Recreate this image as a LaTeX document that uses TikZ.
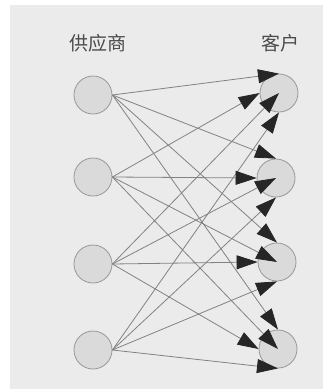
\documentclass[tikz,border=0pt]{standalone}
\usepackage{fontspec}
\newfontfamily\cjk{Noto Sans CJK SC}
\usetikzlibrary{arrows.meta}
\definecolor{bg}{HTML}{EBEBEB}
\definecolor{cfill}{HTML}{DADADA}
\definecolor{cline}{HTML}{989898}
\definecolor{aline}{HTML}{828282}
\definecolor{txt}{HTML}{4A4A4A}
\begin{document}
\begin{tikzpicture}[x=1pt,y=-1pt,
  party/.style={circle,draw=cline,fill=cfill,line width=0.8pt,minimum size=38pt,inner sep=0pt},
  flow/.style={draw=aline,line width=0.8pt,-{Triangle[length=21pt,width=14pt,fill=black!85,color=black!85]}},
  head/.style={font=\cjk\fontsize{19}{19}\selectfont,text=txt}]
\useasboundingbox (0,0) rectangle (323,389);
\fill[white] (0,0) rectangle (323,389);
\fill[bg] (10,5) rectangle (323,389);
\node[head] (ts) at (98,43) {供应商};
\node[head] (tc) at (280,43) {客户};
\node[party] (L1) at (93,95) {};
\node[party] (L2) at (93,177) {};
\node[party] (L3) at (93,264) {};
\node[party] (L4) at (93,350) {};
\node[party] (R1) at (279,93) {};
\node[party] (R2) at (276,178) {};
\node[party] (R3) at (277,262) {};
\node[party] (R4) at (278,349) {};
% L1 -> tops
\draw[flow] (L1.east) -- (R1.north);
\draw[flow] (L1.east) -- (R2.north);
\draw[flow] (L1.east) -- (R3.north);
\draw[flow] (L1.east) -- (R4.north);
% L4 -> bottoms
\draw[flow] (L4.east) -- (R1.south);
\draw[flow] (L4.east) -- (R2.south);
\draw[flow] (L4.east) -- (R3.south);
\draw[flow] (L4.east) -- (R4.south);
% L2
\draw[flow] (L2.east) -- (R1.west);
\draw[flow] (L2.east) -- (R2.west);
\draw[flow] (L2.east) -- (R3.center);
\draw[flow] (L2.east) -- (R4.center);
% L3
\draw[flow] (L3.east) -- (R1.center);
\draw[flow] (L3.east) -- (R2.center);
\draw[flow] (L3.east) -- (R3.west);
\draw[flow] (L3.east) -- (R4.west);
\end{tikzpicture}
\end{document}
